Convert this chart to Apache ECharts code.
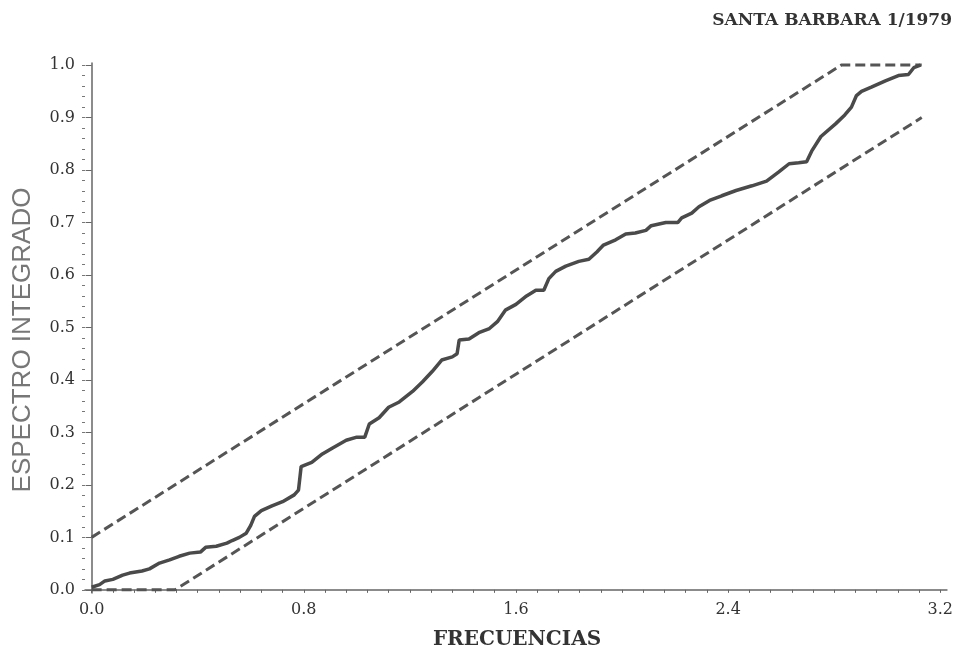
<!DOCTYPE html>
<html>
<head>
<meta charset="utf-8">
<script src="https://cdn.jsdelivr.net/npm/echarts@6/dist/echarts.min.js"></script>
<style>
  html, body { margin: 0; padding: 0; background: #fff; }
  #chart { width: 956px; height: 655px; }
</style>
</head>
<body>
<div id="chart"></div>
<script>
// espectro integrado (periodograma acumulado)
var freq = [0, 0.03, 0.05, 0.08, 0.117, 0.143, 0.19, 0.218, 0.256, 0.294, 0.33, 0.37, 0.41, 0.43, 0.47, 0.51,
  0.53, 0.557, 0.583, 0.60, 0.614, 0.64, 0.68, 0.72, 0.764, 0.78, 0.79, 0.83, 0.87, 0.907, 0.96, 1.0, 1.03,
  1.047, 1.084, 1.12, 1.16, 1.21, 1.247, 1.284, 1.32, 1.36, 1.378, 1.386, 1.423, 1.46, 1.5, 1.53, 1.56, 1.60,
  1.64, 1.675, 1.705, 1.724, 1.75, 1.788, 1.837, 1.875, 1.905, 1.93, 1.976, 2.014, 2.05, 2.09, 2.11, 2.165,
  2.21, 2.225, 2.263, 2.29, 2.33, 2.376, 2.43, 2.49, 2.545, 2.59, 2.63, 2.666, 2.696, 2.715, 2.75, 2.805,
  2.84, 2.865, 2.884, 2.903, 2.94, 2.993, 3.042, 3.08, 3.10, 3.125];
var espectro = [0.005, 0.01, 0.017, 0.02, 0.028, 0.032, 0.036, 0.04, 0.051, 0.057, 0.064, 0.07, 0.072, 0.081,
  0.083, 0.089, 0.094, 0.10, 0.108, 0.123, 0.14, 0.151, 0.16, 0.168, 0.181, 0.19, 0.235, 0.243, 0.259, 0.27,
  0.285, 0.291, 0.291, 0.316, 0.328, 0.348, 0.358, 0.378, 0.396, 0.416, 0.438, 0.444, 0.45, 0.476, 0.478,
  0.49, 0.498, 0.511, 0.533, 0.544, 0.56, 0.571, 0.571, 0.593, 0.607, 0.617, 0.626, 0.63, 0.644, 0.657,
  0.667, 0.678, 0.68, 0.685, 0.694, 0.70, 0.70, 0.709, 0.718, 0.73, 0.742, 0.751, 0.761, 0.77, 0.779, 0.796,
  0.812, 0.814, 0.816, 0.836, 0.864, 0.888, 0.905, 0.92, 0.942, 0.95, 0.958, 0.97, 0.98, 0.982, 0.995, 1.0];

// bandas de confianza
var bandaSupX = [0, 2.827, 3.13];
var bandaSupY = [0.1, 1.0, 1.0];
var bandaInfX = [0, 0.314, 3.13];
var bandaInfY = [0, 0, 0.9];

var xLabels = [0, 0.8, 1.6, 2.4, 3.2];
var yLabels = [0, 0.1, 0.2, 0.3, 0.4, 0.5, 0.6, 0.7, 0.8, 0.9, 1.0];

// marcas menores
var xTicks = [];
for (var i = 0; i <= 40; i++) xTicks.push(+(i * 0.08).toFixed(2));
var yTicks = [];
for (var j = 0; j <= 50; j++) yTicks.push(+(j * 0.02).toFixed(2));

function zip(a, b) {
  return a.map(function (v, k) { return [v, b[k]]; });
}

var serif = 'DejaVu Serif';
var chart = echarts.init(document.getElementById('chart'));

chart.setOption({
  animation: false,
  backgroundColor: '#fff',
  grid: { left: 85, right: 8, top: 63, bottom: 62, containLabel: false },
  xAxis: [{
    type: 'value',
    min: -0.025,
    max: 3.225,
    axisLine: { lineStyle: { color: '#666', width: 1.5 } },
    axisTick: { customValues: xTicks, length: 3, lineStyle: { color: '#666' } },
    axisLabel: {
      customValues: xLabels,
      margin: 9,
      color: '#333',
      fontFamily: serif,
      fontSize: 16,
      formatter: function (v) { return v.toFixed(1); }
    },
    splitLine: { show: false }
  }],
  yAxis: [{
    type: 'value',
    min: -0.006,
    max: 1.004,
    axisLine: { show: true, lineStyle: { color: '#666', width: 1.5 } },
    axisTick: { show: true, customValues: yLabels, length: 6, lineStyle: { color: '#666' } },
    axisLabel: {
      customValues: yLabels,
      margin: 10,
      color: '#333',
      fontFamily: serif,
      fontSize: 16,
      formatter: function (v) { return v.toFixed(1); }
    },
    splitLine: { show: false }
  }, {
    type: 'value',
    position: 'left',
    min: -0.006,
    max: 1.004,
    axisLine: { show: false },
    axisTick: { show: true, customValues: yTicks, length: 3, lineStyle: { color: '#777' } },
    axisLabel: { show: false },
    splitLine: { show: false }
  }],
  graphic: [
    {
      type: 'text', right: 4, top: 12,
      style: { text: 'SANTA BARBARA 1/1979', font: 'bold 17px "DejaVu Serif"', fill: '#333' }
    },
    {
      type: 'text', x: 517, y: 640,
      style: { text: 'FRECUENCIAS', font: 'bold 20px "DejaVu Serif"', fill: '#333', align: 'center', verticalAlign: 'middle' }
    },
    {
      type: 'text', x: 23, y: 340, rotation: Math.PI / 2,
      style: { text: 'ESPECTRO INTEGRADO', font: '26px "Liberation Sans"', fill: '#777', align: 'center', verticalAlign: 'middle' }
    }
  ],
  series: [
    {
      name: 'banda superior',
      type: 'line',
      data: zip(bandaSupX, bandaSupY),
      symbol: 'none',
      lineStyle: { color: '#555', width: 3, type: [10, 5] },
      z: 2
    },
    {
      name: 'banda inferior',
      type: 'line',
      data: zip(bandaInfX, bandaInfY),
      symbol: 'none',
      lineStyle: { color: '#555', width: 3, type: [10, 5] },
      z: 2
    },
    {
      name: 'espectro',
      type: 'line',
      data: zip(freq, espectro),
      symbol: 'none',
      lineStyle: { color: '#4a4a4a', width: 3.5 },
      z: 3
    }
  ]
});
</script>
</body>
</html>
